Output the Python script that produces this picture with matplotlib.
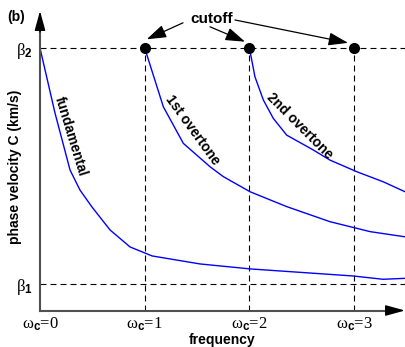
import numpy as np
import matplotlib
matplotlib.use("Agg")
import matplotlib.pyplot as plt

plt.rcParams['font.family'] = ['Liberation Sans', 'DejaVu Sans']
plt.rcParams['mathtext.fontset'] = 'custom'
plt.rcParams['mathtext.rm'] = 'Liberation Serif'
plt.rcParams['mathtext.it'] = 'Liberation Serif:italic'
plt.rcParams['mathtext.bf'] = 'Liberation Sans:bold'
plt.rcParams['mathtext.sf'] = 'Liberation Sans'

# --- dispersion curves (frequency in units of cutoff, velocity beta1=1, beta2=2) ---
fund_f = [0.0, 0.143, 0.287, 0.382, 0.497, 0.669, 0.860, 1.07, 1.528, 2.006, 2.99, 3.276, 3.486]
fund_c = [2.0, 1.725, 1.483, 1.398, 1.326, 1.229, 1.157, 1.119, 1.085, 1.064, 1.034, 1.020, 1.024]

ot1_f = [1.0, 1.178, 1.369, 1.624, 1.751, 2.006, 2.356, 2.770, 3.152, 3.486]
ot1_c = [2.0, 1.751, 1.596, 1.497, 1.455, 1.391, 1.328, 1.264, 1.222, 1.200]

ot2_f = [2.0, 2.053, 2.133, 2.228, 2.356, 2.610, 2.770, 3.025, 3.279, 3.486]
ot2_c = [2.0, 1.878, 1.780, 1.702, 1.631, 1.568, 1.525, 1.476, 1.433, 1.391]

beta1, beta2 = 1.0, 2.0
cutoffs = [1, 2, 3]
xtick_vals = [0, 1, 2, 3]
xtick_labels = [r'$\mathrm{\omega}_{\mathbf{c}}$=%d' % v for v in xtick_vals]
ytick_labels = [r'$\mathrm{\beta}_{\mathbf{1}}$', r'$\mathrm{\beta}_{\mathbf{2}}$']

W, H = 405, 347
fig = plt.figure(figsize=(W / 100, H / 100), dpi=100)
ax = fig.add_axes([40 / W, (H - 310.5) / H, 365 / W, (310.5 - 11) / H])
ax.set_xlim(0, 3.486)
ax.set_ylim(0.8877, 2.157)
for s in ax.spines.values():
    s.set_visible(False)

dash = (0, (5.4, 3.6))
ax.axhline(beta2, color='black', lw=0.8, ls=dash)
ax.axhline(beta1, color='black', lw=0.8, ls=dash)
for c in cutoffs:
    ax.plot([c, c], [ax.get_ylim()[0], beta2], color='black', lw=0.8, ls=dash)

ax.plot(fund_f, fund_c, color='#0000ff', lw=1.0)
ax.plot(ot1_f, ot1_c, color='#0000ff', lw=1.0)
ax.plot(ot2_f, ot2_c, color='#0000ff', lw=1.0)

ax.plot(cutoffs, [beta2] * len(cutoffs), 'o', color='black', ms=7, clip_on=False)

# axes with arrowheads
ax.plot([0, 0], [0, 0.95], color='#505050', lw=1.5, transform=ax.transAxes, clip_on=False)
ax.plot([0, 0.97], [0, 0], color='#505050', lw=1.5, transform=ax.transAxes, clip_on=False)
head = dict(arrowstyle='-|>,head_length=1.2,head_width=0.33', color='black',
            lw=1.0, mutation_scale=10, shrinkA=0, shrinkB=0)
ax.annotate('', xy=(0, 1), xytext=(0, 0.93), xycoords='axes fraction', arrowprops=head)
ax.annotate('', xy=(1, 0), xytext=(0.95, 0), xycoords='axes fraction', arrowprops=head)

ax.set_xticks(xtick_vals, labels=xtick_labels)
ax.set_yticks([beta1, beta2], labels=ytick_labels)
ax.tick_params(length=0, labelsize=12)
ax.tick_params(axis='x', pad=4)
ax.tick_params(axis='y', pad=5)
for lab in ax.get_xticklabels() + ax.get_yticklabels():
    lab.set_fontfamily('Liberation Serif')

ax.set_xlabel('frequency', fontsize=10, fontweight='bold', labelpad=0)
ax.set_ylabel('phase velocity C (km/s)', fontsize=10, fontweight='bold', labelpad=4)
ax.yaxis.set_label_coords(-0.05, 0.48)

# mode labels
ax.text(0.29, 1.625, 'fundamental', rotation=-73, ha='center', va='center',
        fontsize=10, fontweight='bold')
ax.text(1.452, 1.653, '1st overtone', rotation=-54, ha='center', va='center',
        fontsize=10, fontweight='bold')
ax.text(2.483, 1.669, '2nd overtone', rotation=-45, ha='center', va='center',
        fontsize=10, fontweight='bold')

# cutoff annotation
ax.text(1.635, 2.124, 'cutoff', ha='center', va='center', fontsize=11, fontweight='bold')
arr = dict(arrowstyle='-|>,head_length=1.2,head_width=0.4', color='black',
           lw=0.9, mutation_scale=10, shrinkA=0, shrinkB=0)
ax.annotate('', xy=(1.019, 2.037), xytext=(1.366, 2.107), arrowprops=arr, annotation_clip=False)
ax.annotate('', xy=(1.958, 2.027), xytext=(1.624, 2.090), arrowprops=arr, annotation_clip=False)
ax.annotate('', xy=(2.942, 2.022), xytext=(1.862, 2.119), arrowprops=arr, annotation_clip=False)

fig.text(16 / W, 1 - 17 / H, '(b)', ha='center', va='center', fontsize=10, fontweight='bold')

fig.savefig('out.png', dpi=100)
